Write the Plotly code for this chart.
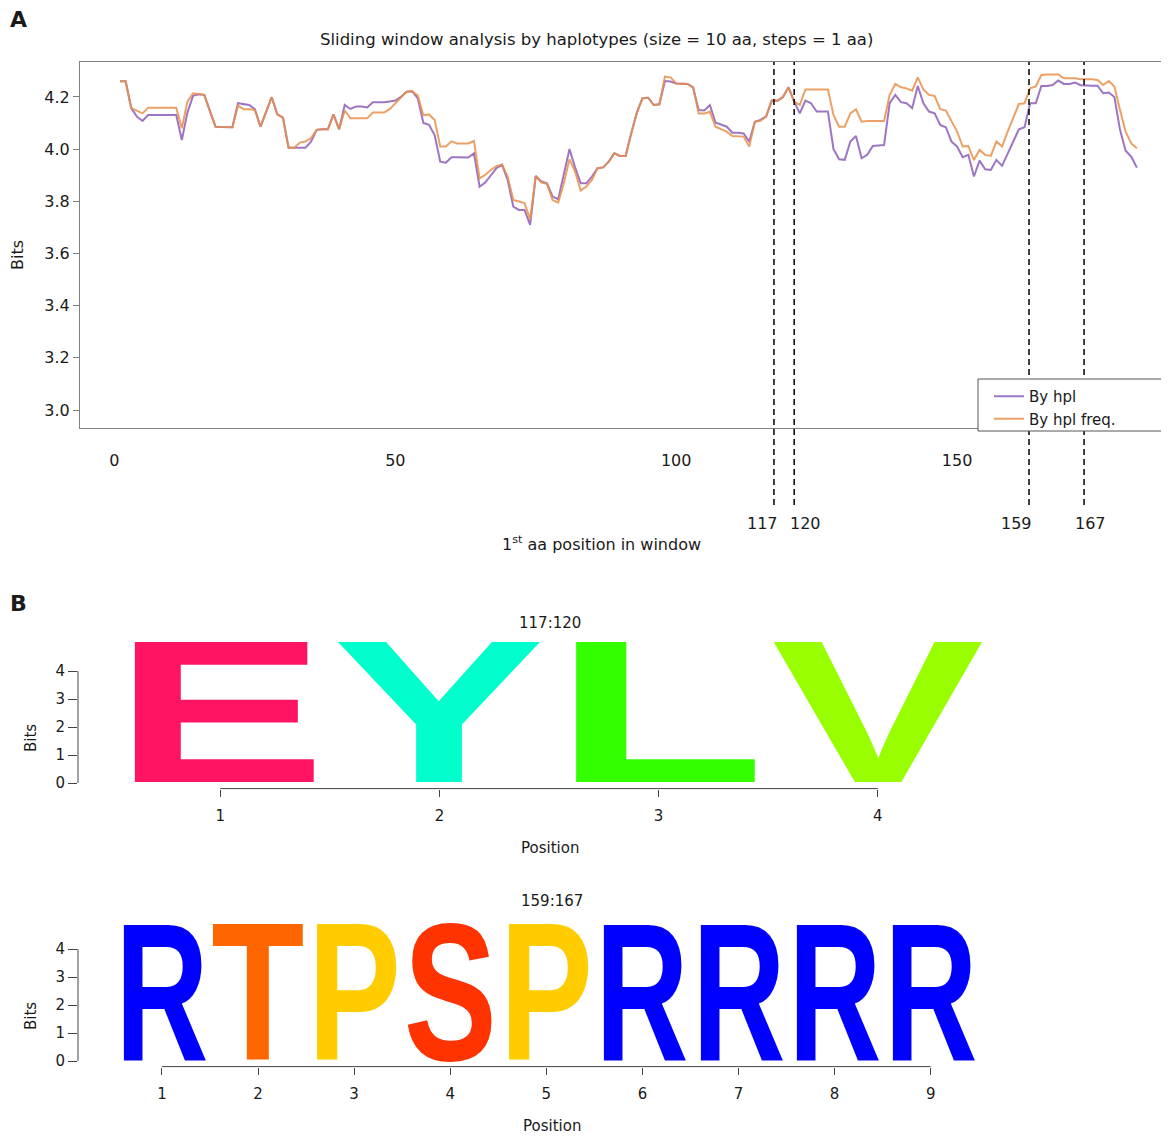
import json
import plotly.graph_objects as go

W, H = 1169, 1137

# ---------------- data: panel A ----------------
positions = list(range(1, 183))
bits_by_hpl = [
    4.26, 4.26, 4.157, 4.125, 4.108, 4.131, 4.131, 4.131, 4.131, 4.131,
    4.131, 4.035, 4.14, 4.204, 4.21, 4.208, 4.145, 4.086, 4.085, 4.085,
    4.084, 4.176, 4.172, 4.169, 4.153, 4.086, 4.142, 4.199, 4.133, 4.121,
    4.005, 4.005, 4.005, 4.005, 4.029, 4.074, 4.076, 4.076, 4.133, 4.076,
    4.169, 4.154, 4.163, 4.163, 4.16, 4.18, 4.18, 4.18, 4.183, 4.186,
    4.2, 4.22, 4.222, 4.195, 4.1, 4.093, 4.054, 3.952, 3.948, 3.969,
    3.969, 3.969, 3.968, 3.984, 3.856, 3.872, 3.901, 3.927, 3.94, 3.882,
    3.78, 3.767, 3.767, 3.71, 3.897, 3.876, 3.869, 3.818, 3.808, 3.90,
    4.0, 3.93, 3.869, 3.869, 3.895, 3.927, 3.93, 3.952, 3.984, 3.974,
    3.974, 4.061, 4.14, 4.195, 4.197, 4.169, 4.172, 4.261, 4.259, 4.252,
    4.25, 4.25, 4.237, 4.15, 4.148, 4.169, 4.102, 4.093, 4.086, 4.063,
    4.063, 4.06, 4.029, 4.105, 4.112, 4.125, 4.186, 4.185, 4.2, 4.237,
    4.182, 4.137, 4.186, 4.176, 4.144, 4.144, 4.144, 4.0, 3.961, 3.959,
    4.029, 4.05, 3.965, 3.978, 4.012, 4.014, 4.016, 4.176, 4.208, 4.18,
    4.176, 4.157, 4.242, 4.176, 4.144, 4.137, 4.093, 4.084, 4.029, 4.01,
    3.969, 3.978, 3.895, 3.956, 3.923, 3.92, 3.959, 3.936, 3.984, 4.029,
    4.076, 4.084, 4.176, 4.176, 4.242, 4.242, 4.246, 4.263, 4.25, 4.25,
    4.255, 4.245, 4.243, 4.243, 4.243, 4.214, 4.217, 4.2, 4.074, 3.994,
    3.971, 3.929,
]
bits_by_hpl_freq = [
    4.26, 4.26, 4.157, 4.148, 4.137, 4.159, 4.159, 4.159, 4.159, 4.159,
    4.159, 4.08, 4.182, 4.214, 4.21, 4.208, 4.145, 4.086, 4.085, 4.085,
    4.084, 4.167, 4.153, 4.153, 4.15, 4.086, 4.142, 4.199, 4.133, 4.121,
    4.005, 4.005, 4.025, 4.029, 4.042, 4.074, 4.076, 4.076, 4.133, 4.076,
    4.148, 4.118, 4.118, 4.118, 4.118, 4.14, 4.14, 4.14, 4.153, 4.176,
    4.2, 4.22, 4.222, 4.205, 4.13, 4.133, 4.112, 4.01, 4.01, 4.03,
    4.022, 4.022, 4.022, 4.031, 3.888, 3.901, 3.92, 3.935, 3.94, 3.895,
    3.805, 3.799, 3.793, 3.73, 3.897, 3.872, 3.867, 3.805, 3.795, 3.87,
    3.961, 3.914, 3.841, 3.857, 3.882, 3.927, 3.93, 3.952, 3.984, 3.974,
    3.974, 4.061, 4.14, 4.195, 4.197, 4.169, 4.172, 4.278, 4.275, 4.252,
    4.25, 4.25, 4.237, 4.137, 4.137, 4.143, 4.086, 4.076, 4.067, 4.05,
    4.05, 4.048, 4.01, 4.105, 4.109, 4.125, 4.186, 4.185, 4.2, 4.237,
    4.182, 4.169, 4.229, 4.229, 4.229, 4.229, 4.229, 4.131, 4.086, 4.086,
    4.137, 4.153, 4.105, 4.108, 4.108, 4.108, 4.108, 4.208, 4.25, 4.237,
    4.233, 4.224, 4.275, 4.229, 4.208, 4.204, 4.153, 4.148, 4.105, 4.067,
    4.01, 4.012, 3.958, 3.997, 3.978, 3.974, 4.029, 4.01, 4.067, 4.118,
    4.173, 4.176, 4.233, 4.24, 4.284, 4.286, 4.286, 4.286, 4.272, 4.272,
    4.272, 4.268, 4.268, 4.268, 4.265, 4.246, 4.261, 4.24, 4.15, 4.067,
    4.022, 4.003,
]
series_names = ["By hpl", "By hpl freq."]
a_x_ticks = [0, 50, 100, 150]
a_y_ticks = [3.0, 3.2, 3.4, 3.6, 3.8, 4.0, 4.2]
marker_labels = ["117", "120", "159", "167"]
marker_x = [117.4, 121.0, 162.8, 172.6]

# ---------------- data: panel B (sequence logos) ----------------
logo1_title = "117:120"
logo1_letters = ["E", "Y", "L", "V"]
logo1_bits = [5.0, 5.0, 5.0, 5.0]
logo2_title = "159:167"
logo2_letters = ["R", "T", "P", "S", "P", "R", "R", "R", "R"]
logo2_bits = [4.82, 4.82, 4.82, 4.82, 4.82, 4.82, 4.82, 4.82, 4.82]
logo_y_ticks = [0, 1, 2, 3, 4]
aa_colors = {"E": "#FF1464", "Y": "#00FFCC", "L": "#33FF00", "V": "#99FF00",
             "R": "#0000FF", "T": "#FF6600", "P": "#FFCC00", "S": "#FF3300"}

# ---------------- styling ----------------
FONT = "DejaVu Sans"
TXT = "#1a1a1a"
PURPLE = "#9467bd"
ORANGE = "#E8904C"
OFF = 8  # page body margin of the html page


def px_x(p):
    return (p - OFF) / W


def px_y(p):
    return 1 - (p - OFF) / H


fig = go.Figure()
fig.add_trace(go.Scatter(x=positions, y=bits_by_hpl, mode="lines", name=series_names[0],
                         line=dict(color=PURPLE, width=2), opacity=0.9,
                         xaxis="x", yaxis="y"))
fig.add_trace(go.Scatter(x=positions, y=bits_by_hpl_freq, mode="lines", name=series_names[1],
                         line=dict(color=ORANGE, width=2), opacity=0.85,
                         xaxis="x", yaxis="y"))

logo1_pos = list(range(1, len(logo1_letters) + 1))
logo2_pos = list(range(1, len(logo2_letters) + 1))
fig.add_trace(go.Scatter(x=logo1_pos, y=[0] * len(logo1_pos), mode="markers",
                         marker=dict(opacity=0), showlegend=False, hoverinfo="skip",
                         xaxis="x2", yaxis="y2"))
fig.add_trace(go.Scatter(x=logo2_pos, y=[0] * len(logo2_pos), mode="markers",
                         marker=dict(opacity=0), showlegend=False, hoverinfo="skip",
                         xaxis="x3", yaxis="y3"))

# panel geometry (screen pixels)
A_L, A_T, A_B = 80, 62, 428
L_L, L_R = 78, 1000
L1_ZERO, L2_ZERO, PX_PER_BIT = 783, 1061, 28.0
LOGO_TOP, LOGO_BOT = 5.2, -0.2
A_PX_PER_UNIT, A_ZERO_PX = 5.618, 114.4
L1_PX_PER_UNIT, L1_ZERO_PX = 219.2, 1.0
L2_PX_PER_UNIT, L2_ZERO_PX = 96.1, 65.8
L1_TEXT_X, L2_TEXT_X = 550, 552

axis_common = dict(showgrid=False, zeroline=False, automargin=False,
                   tickfont=dict(family=FONT, size=16, color=TXT))


def logo_dom(zero):
    return [px_y(zero - LOGO_BOT * PX_PER_BIT), px_y(zero - LOGO_TOP * PX_PER_BIT)]


fig.update_layout(
    width=W, height=H, margin=dict(l=0, r=0, t=0, b=0),
    paper_bgcolor="white", plot_bgcolor="white",
    font=dict(family=FONT, color=TXT),
    showlegend=True,
    legend=dict(x=px_x(989), y=px_y(380), xanchor="left", yanchor="top",
                bgcolor="rgba(0,0,0,0)", borderwidth=0,
                font=dict(family=FONT, size=15, color=TXT),
                itemwidth=30, tracegroupgap=0),
    xaxis=dict(domain=[px_x(A_L), 1.0],
               range=[(A_L - A_ZERO_PX) / A_PX_PER_UNIT, (W + OFF - A_ZERO_PX) / A_PX_PER_UNIT],
               tickvals=a_x_ticks, ticks="", ticklabelstandoff=18,
               showline=True, mirror=True, linecolor="#808080", linewidth=1,
               anchor="y", **axis_common),
    yaxis=dict(domain=[px_y(A_B), px_y(A_T)], range=[2.931, 4.334],
               tickvals=a_y_ticks, ticktext=[f"{v:.1f}" for v in a_y_ticks],
               ticks="outside", ticklen=6, tickcolor="#808080",
               showline=True, mirror=True, linecolor="#808080", linewidth=1,
               anchor="x", **axis_common),
    xaxis2=dict(domain=[px_x(L_L), px_x(L_R)],
                range=[(L_L - L1_ZERO_PX) / L1_PX_PER_UNIT, (L_R - L1_ZERO_PX) / L1_PX_PER_UNIT],
                tickvals=logo1_pos, ticks="outside", ticklen=7, tickcolor="#444",
                ticklabelstandoff=6, showline=False, anchor="y2", **axis_common),
    yaxis2=dict(domain=logo_dom(L1_ZERO), range=[LOGO_BOT, LOGO_TOP], tickvals=logo_y_ticks,
                ticks="outside", ticklen=9, tickcolor="#444",
                showline=False, anchor="x2", **axis_common),
    xaxis3=dict(domain=[px_x(L_L), px_x(L_R)],
                range=[(L_L - L2_ZERO_PX) / L2_PX_PER_UNIT, (L_R - L2_ZERO_PX) / L2_PX_PER_UNIT],
                tickvals=logo2_pos, ticks="outside", ticklen=7, tickcolor="#444",
                ticklabelstandoff=6, showline=False, anchor="y3", **axis_common),
    yaxis3=dict(domain=logo_dom(L2_ZERO), range=[LOGO_BOT, LOGO_TOP], tickvals=logo_y_ticks,
                ticks="outside", ticklen=9, tickcolor="#444",
                showline=False, anchor="x3", **axis_common),
)
fig.update_layout(xaxis2_tickfont_size=15, xaxis3_tickfont_size=15,
                  yaxis2_tickfont_size=15, yaxis3_tickfont_size=15)

annotations = []
shapes = []

# panel labels
for lab, yy in (("A", 19), ("B", 603)):
    annotations.append(dict(xref="paper", yref="paper", x=px_x(8), y=px_y(yy), text=f"<b>{lab}</b>",
                            showarrow=False, xanchor="left", yanchor="middle",
                            font=dict(family=FONT, size=22, color=TXT)))
# panel A title & axis titles
annotations.append(dict(xref="paper", yref="paper", x=px_x(596), y=px_y(39),
                        text="Sliding window analysis by haplotypes (size = 10 aa, steps = 1 aa)",
                        showarrow=False, xanchor="center", yanchor="middle",
                        font=dict(family=FONT, size=16.5, color=TXT)))
annotations.append(dict(xref="paper", yref="paper", x=px_x(601), y=px_y(543),
                        text="1<sup>st</sup> aa position in window",
                        showarrow=False, xanchor="center", yanchor="middle",
                        font=dict(family=FONT, size=16, color=TXT)))
annotations.append(dict(xref="paper", yref="paper", x=px_x(17), y=px_y(255), text="Bits",
                        textangle=-90, showarrow=False, xanchor="center", yanchor="middle",
                        font=dict(family=FONT, size=16, color=TXT)))

# dashed marker lines + labels
a_h = A_B - A_T
label_shift = [-11, 11, -13, 6]
for xv, lab, sh in zip(marker_x, marker_labels, label_shift):
    shapes.append(dict(type="line", xref="x", yref="y domain", x0=xv, x1=xv,
                       y0=-(505 - A_B) / a_h, y1=1,
                       line=dict(color="black", width=1.5, dash="6px,4px")))
    annotations.append(dict(xref="x", yref="y domain", x=xv, y=-(523 - A_B) / a_h,
                            text=lab, showarrow=False, xanchor="center", yanchor="middle",
                            xshift=sh, font=dict(family=FONT, size=16, color=TXT)))

# legend frame (drawn over the dashed lines; runs off the right edge like the reference)
shapes.append(dict(type="rect", xref="paper", yref="paper", x0=px_x(978), x1=px_x(1185),
                   y0=px_y(431), y1=px_y(379), line=dict(color="#555555", width=1),
                   fillcolor="white", layer="above"))

# logos
LETTER_FONT = "Liberation Sans"
CAP = 0.688
DESC = 0.212
LETTER_FILL = 0.97
stretch = {}


def add_logo(xa, ya, letters, bits, pos, title, zero_px, px_per_unit, text_x):
    dom = f"{ya} domain"
    for letter, b, p in zip(letters, bits, pos):
        size = b * PX_PER_BIT / CAP
        stretch[len(annotations)] = round(LETTER_FILL * px_per_unit, 1)
        annotations.append(dict(xref=xa, yref=ya, x=p, y=0, text=letter, showarrow=False,
                                xanchor="center", yanchor="bottom", borderpad=0,
                                yshift=-DESC * size,
                                font=dict(family=LETTER_FONT, size=size, weight=700,
                                          color=aa_colors[letter])))
    annotations.append(dict(xref="paper", yref="paper", x=px_x(text_x),
                            y=px_y(zero_px - LOGO_TOP * PX_PER_BIT), text=title,
                            showarrow=False, xanchor="center", yanchor="bottom", yshift=3,
                            font=dict(family=FONT, size=15, color=TXT)))
    annotations.append(dict(xref="paper", yref="paper", x=px_x(text_x), y=px_y(zero_px + 65),
                            text="Position", showarrow=False, xanchor="center", yanchor="middle",
                            font=dict(family=FONT, size=15, color=TXT)))
    annotations.append(dict(xref="paper", yref="paper", x=px_x(31), y=px_y(zero_px - 45),
                            text="Bits", textangle=-90, showarrow=False,
                            xanchor="center", yanchor="middle",
                            font=dict(family=FONT, size=15, color=TXT)))
    shapes.append(dict(type="line", xref=f"{xa} domain", yref=ya, x0=0, x1=0,
                       y0=0, y1=max(logo_y_ticks), line=dict(color="#444", width=1)))
    shapes.append(dict(type="line", xref=xa, yref=dom, x0=min(pos), x1=max(pos),
                       y0=0, y1=0, line=dict(color="#444", width=1)))


add_logo("x2", "y2", logo1_letters, logo1_bits, logo1_pos, logo1_title, L1_ZERO,
         L1_PX_PER_UNIT, L1_TEXT_X)
add_logo("x3", "y3", logo2_letters, logo2_bits, logo2_pos, logo2_title, L2_ZERO,
         L2_PX_PER_UNIT, L2_TEXT_X)

fig.update_layout(annotations=annotations, shapes=shapes)

# logo letters are stretched horizontally to fill their column (as sequence logos do)
post = """
var gd = document.getElementById('{plot_id}');
var widths = %s;
function stretchLetters() {
  gd.querySelectorAll('g.annotation').forEach(function (g) {
    var i = g.getAttribute('data-index');
    if (widths[i] !== undefined) {
      var t = g.querySelector('text.annotation-text');
      if (t) {
        t.setAttribute('textLength', widths[i]);
        t.setAttribute('lengthAdjust', 'spacingAndGlyphs');
      }
    }
  });
}
stretchLetters();
gd.on('plotly_afterplot', stretchLetters);
""" % json.dumps({str(k): v for k, v in stretch.items()})

fig.write_html("out.html", post_script=post)
